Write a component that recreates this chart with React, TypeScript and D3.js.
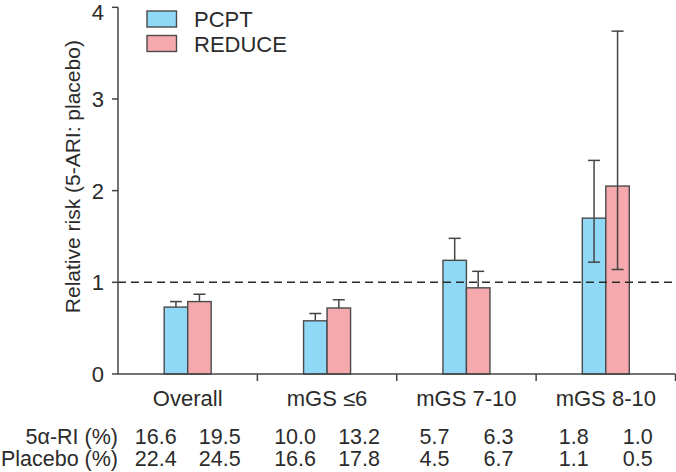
import { scaleBand, scaleLinear } from 'd3';

const categories = ['Overall', 'mGS ≤6', 'mGS 7-10', 'mGS 8-10'];
const series = ['PCPT', 'REDUCE'];
const pcpt = [0.73, 0.58, 1.24, 1.7];
const pcptHi = [0.79, 0.66, 1.48, 2.33];
const pcptLo = [null, null, null, 1.22];
const reduce = [0.79, 0.72, 0.94, 2.05];
const reduceHi = [0.87, 0.81, 1.12, 3.74];
const reduceLo = [null, null, null, 1.14];
const yTicks = [0, 1, 2, 3, 4];
const ariRow = [['16.6', '19.5'], ['10.0', '13.2'], ['5.7', '6.3'], ['1.8', '1.0']];
const placeboRow = [['22.4', '24.5'], ['16.6', '17.8'], ['4.5', '6.7'], ['1.1', '0.5']];
const rowLabels = ['5α-RI (%)', 'Placebo (%)'];

const colors = { PCPT: '#8fd8f6', REDUCE: '#f6a9ad' };
const W = 676;
const H = 472;
const left = 118;
const right = 675.5;
const top = 7.3;
const bottom = 374;
const font = '"Liberation Sans", Arial, sans-serif';
const ink = '#2b2b2b';
const axisCol = '#444';

export default function App() {
  const x = scaleBand<string>().domain(categories).range([left, right]).padding(0);
  const y = scaleLinear().domain([0, 4]).range([bottom, top]);
  const barW = 23.5;
  const inner = scaleBand<string>().domain(series).range([-barW, barW]).padding(0);
  const capW = 12;

  const bars = categories.flatMap((c, i) => [
    { c, s: 'PCPT', v: pcpt[i], hi: pcptHi[i], lo: pcptLo[i] },
    { c, s: 'REDUCE', v: reduce[i], hi: reduceHi[i], lo: reduceLo[i] },
  ]);
  const cx = (c: string) => (x(c) as number) + x.bandwidth() / 2;

  return (
    <svg width={W} height={H} style={{ position: 'absolute', left: 0, top: 0 }} fontFamily={font}>
      <rect width={W} height={H} fill="#fff" />
      {/* bars */}
      {bars.map((b) => {
        const bx = cx(b.c) + (inner(b.s) as number);
        const mid = bx + inner.bandwidth() / 2;
        return (
          <g key={b.c + b.s}>
            <line x1={mid} x2={mid} y1={y(b.v)} y2={y(b.hi)} stroke={axisCol} strokeWidth={1.5} />
            <line x1={mid - capW / 2} x2={mid + capW / 2} y1={y(b.hi)} y2={y(b.hi)} stroke={axisCol} strokeWidth={1.5} />
            <rect x={bx} y={y(b.v)} width={inner.bandwidth()} height={y(0) - y(b.v)}
              fill={(colors as any)[b.s]} stroke="#4a4a4a" strokeWidth={1.4} />
            {b.lo != null && (
              <g>
                <line x1={mid} x2={mid} y1={y(b.v)} y2={y(b.lo)} stroke={axisCol} strokeWidth={1.5} />
                <line x1={mid - capW / 2} x2={mid + capW / 2} y1={y(b.lo)} y2={y(b.lo)} stroke={axisCol} strokeWidth={1.5} />
              </g>
            )}
          </g>
        );
      })}
      {/* reference line */}
      <line x1={left} x2={right} y1={y(1)} y2={y(1)} stroke={ink} strokeWidth={1.5} strokeDasharray="8,5" />
      {/* y axis */}
      <line x1={left} x2={left} y1={y(4)} y2={y(0)} stroke={axisCol} strokeWidth={1.5} />
      {yTicks.map((t) => (
        <g key={t}>
          <line x1={left - 6} x2={left} y1={y(t)} y2={y(t)} stroke={axisCol} strokeWidth={1.5} />
          <text x={left - 14} y={Math.max(y(t), 12.2)} dy="0.36em" textAnchor="end" fontSize={22} fill={ink}>{t}</text>
        </g>
      ))}
      <text transform={`translate(72,${(y(4) + y(0)) / 2 - 14}) rotate(-90)`} textAnchor="middle"
        dominantBaseline="central" fontSize={21} fill={ink}>Relative risk (5-ARI: placebo)</text>
      {/* x axis */}
      <line x1={left} x2={right} y1={y(0)} y2={y(0)} stroke={axisCol} strokeWidth={1.5} />
      {categories.map((c) => (
        <g key={c}>
          <line x1={(x(c) as number) + x.bandwidth()} x2={(x(c) as number) + x.bandwidth()} y1={y(0)} y2={y(0) + 7}
            stroke={axisCol} strokeWidth={1.5} />
          <text x={cx(c)} y={406} textAnchor="middle" fontSize={22} fill={ink}>{c}</text>
        </g>
      ))}
      {/* table */}
      {[ariRow, placeboRow].map((row, r) => (
        <g key={r}>
          <text x={left} y={443.5 + r * 22.5} textAnchor="end" fontSize={21.5} fill={ink}>{rowLabels[r]}</text>
          {categories.map((c, i) => row[i].map((v, j) => (
            <text key={c + j} x={cx(c) + (j === 0 ? -32 : 32)} y={443.5 + r * 22.5} textAnchor="middle"
              fontSize={21.5} fill={ink}>{v}</text>
          )))}
        </g>
      ))}
      {/* legend */}
      {series.map((s, i) => (
        <g key={s}>
          <rect x={147} y={11 + i * 24.5} width={29.5} height={16} fill={(colors as any)[s]} stroke="#4a4a4a" strokeWidth={1.4} />
          <text x={194} y={27 + i * 24.5} fontSize={22} fill={ink}>{s}</text>
        </g>
      ))}
    </svg>
  );
}
